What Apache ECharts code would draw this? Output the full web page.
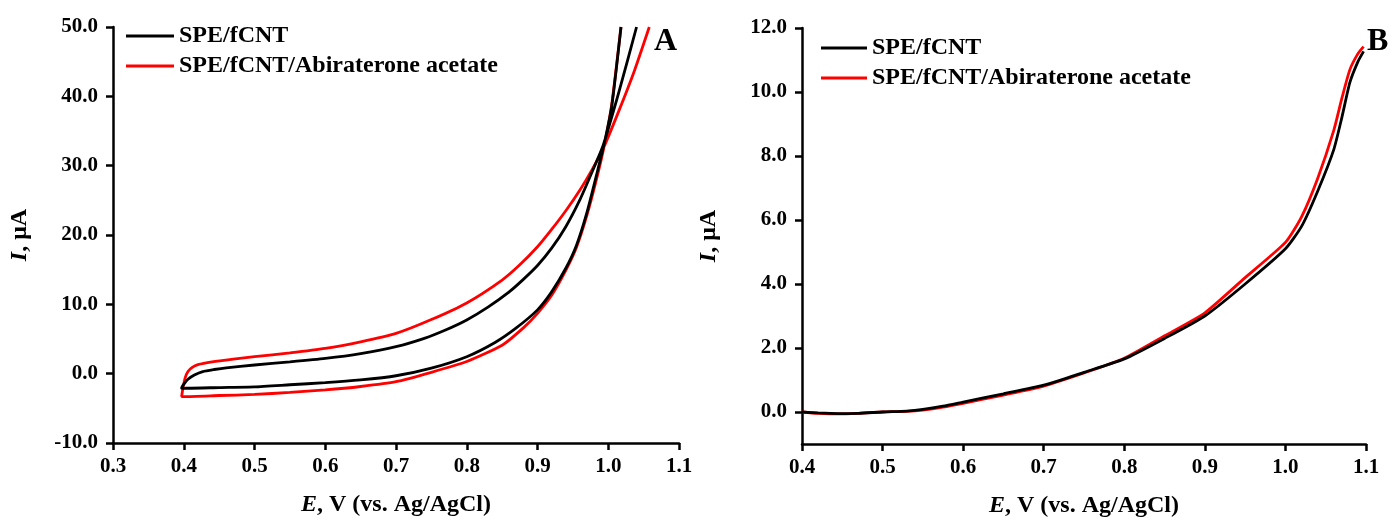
<!DOCTYPE html>
<html><head><meta charset="utf-8">
<script src="https://cdn.jsdelivr.net/npm/echarts@6/dist/echarts.min.js"></script>
<style>html,body{margin:0;padding:0;background:#fff}#c{width:1391px;height:519px}</style>
</head><body><div id="c"></div>
<script>
const seriesNames = ['SPE/fCNT', 'SPE/fCNT/Abiraterone acetate'];
const xTicksA = [0.3, 1.1, 0.1];
const yTicksA = [-10, 50, 10];
const xTicksB = [0.4, 1.1, 0.1];
const yRangeB = [-1, 12];
const yTickValuesB = [0, 2, 4, 6, 8, 10, 12];

// Panel A: cyclic voltammograms [E (V), I (µA)]
const blackUpperA = [[0.397,-2.1],[0.401,-1.4],[0.406,-0.8],[0.415,-0.2],[0.427,0.3],[0.443,0.6],[0.46,0.85],[0.50,1.25],[0.55,1.7],[0.60,2.2],[0.65,2.9],[0.70,3.9],[0.74,5.1],[0.77,6.3],[0.80,7.75],[0.83,9.6],[0.86,11.8],[0.88,13.6],[0.90,15.6],[0.92,18.1],[0.94,21.2],[0.96,25.1],[0.978,29.3],[0.993,33],[1.015,40.6],[1.04,50]];
const blackLowerA = [[0.397,-2.2],[0.406,-2.1],[0.45,-2.0],[0.50,-1.9],[0.55,-1.6],[0.60,-1.3],[0.65,-0.9],[0.70,-0.3],[0.75,0.8],[0.80,2.45],[0.84,4.5],[0.87,6.6],[0.90,9.2],[0.92,11.8],[0.94,15.2],[0.955,18.5],[0.97,23.3],[0.985,29.3],[0.995,33.5],[1.005,38.6],[1.018,50]];
const redUpperA = [[0.397,-3.3],[0.399,-2.0],[0.402,-0.6],[0.406,0.3],[0.412,0.9],[0.42,1.3],[0.44,1.7],[0.47,2.1],[0.50,2.45],[0.55,3.0],[0.60,3.65],[0.65,4.6],[0.70,5.8],[0.75,7.8],[0.80,10.2],[0.85,13.5],[0.875,15.7],[0.90,18.3],[0.92,20.8],[0.94,23.5],[0.96,26.5],[0.977,29.4],[0.993,32.5],[1.015,37.9],[1.037,43.7],[1.058,50]];
const redLowerA = [[0.397,-3.3],[0.40,-3.3],[0.45,-3.15],[0.50,-3.0],[0.55,-2.7],[0.60,-2.35],[0.65,-1.85],[0.70,-1.15],[0.75,0.2],[0.80,1.75],[0.85,4.1],[0.88,6.6],[0.90,8.7],[0.92,11.3],[0.94,14.9],[0.955,18.2],[0.97,22.9],[0.985,28.7],[0.995,33.2],[1.005,38.9],[1.018,50]];

// Panel B: linear sweep [E (V), I (µA)]
const blackB = [[0.40,0],[0.42,-0.03],[0.445,-0.05],[0.47,-0.04],[0.50,0],[0.53,0.03],[0.55,0.08],[0.575,0.18],[0.60,0.31],[0.65,0.57],[0.70,0.84],[0.75,1.24],[0.80,1.66],[0.85,2.3],[0.90,3.0],[0.95,4.0],[1.00,5.1],[1.02,5.8],[1.04,6.9],[1.06,8.2],[1.07,9.2],[1.08,10.3],[1.09,10.95],[1.097,11.27]];
const redB = [[0.40,0],[0.42,-0.04],[0.445,-0.06],[0.47,-0.04],[0.50,0],[0.53,0.02],[0.55,0.06],[0.575,0.15],[0.60,0.27],[0.65,0.53],[0.70,0.81],[0.75,1.22],[0.80,1.68],[0.85,2.38],[0.90,3.1],[0.95,4.2],[1.00,5.3],[1.02,6.1],[1.04,7.3],[1.06,8.8],[1.07,9.8],[1.08,10.7],[1.09,11.2],[1.097,11.42]];

const loopA = (up, low) => up.slice().reverse().concat(low);

const FONT = '"Liberation Serif", "Times New Roman", serif';
const axisLineStyle = {show:true, onZero:false, lineStyle:{color:'#000', width:2.5}};
const tick = {show:true, inside:false, length:7, lineStyle:{color:'#000', width:2.5}};
const lbl = {color:'#000', fontFamily:FONT, fontWeight:'bold', fontSize:21};
const titleStyle = {color:'#000', fontFamily:FONT, fontWeight:'bold', fontSize:24,
  rich:{i:{fontStyle:'italic', fontWeight:'bold', fontFamily:FONT, fontSize:24, color:'#000'}}};
const xName = {name:'{i|E}, V (vs. Ag/AgCl)', nameLocation:'middle', nameGap:50, nameTextStyle:titleStyle};
const yName = {name:'{i|I}, μA', nameLocation:'middle', nameGap:81, nameTextStyle:titleStyle};

function line(name, data, color, xi) {
  return {name, type:'line', xAxisIndex:xi, yAxisIndex:xi, data, symbol:'none', smooth:0.2,
    lineStyle:{color, width:2.8}, itemStyle:{color}, z: color === '#ff0000' ? 3 : 4};
}
const legendText = {color:'#000', fontFamily:FONT, fontWeight:'bold', fontSize:24};

const chart = echarts.init(document.getElementById('c'), null, {renderer:'canvas'});
chart.setOption({
  backgroundColor:'#fff',
  animation:false,
  grid:[
    {left:113, top:27, width:566, height:416, containLabel:false, outerBoundsMode:'none'},
    {left:802, top:28, width:564, height:416, containLabel:false, outerBoundsMode:'none'}
  ],
  xAxis:[
    Object.assign({type:'value', gridIndex:0, min:xTicksA[0], max:xTicksA[1], interval:xTicksA[2],
      axisLine:axisLineStyle, axisTick:tick, splitLine:{show:false},
      axisLabel:Object.assign({margin:13, formatter:v=>v.toFixed(1)}, lbl)}, xName),
    Object.assign({type:'value', gridIndex:1, min:xTicksB[0], max:xTicksB[1], interval:xTicksB[2],
      axisLine:axisLineStyle, axisTick:tick, splitLine:{show:false},
      axisLabel:Object.assign({margin:13, formatter:v=>v.toFixed(1)}, lbl)}, xName)
  ],
  yAxis:[
    Object.assign({type:'value', gridIndex:0, min:yTicksA[0], max:yTicksA[1], interval:yTicksA[2],
      axisLine:axisLineStyle, axisTick:tick, splitLine:{show:false},
      axisLabel:Object.assign({margin:15, formatter:v=>v.toFixed(1)}, lbl)}, yName),
    Object.assign({type:'value', gridIndex:1, min:yRangeB[0], max:yRangeB[1],
      axisLine:axisLineStyle,
      axisTick:Object.assign({customValues:yTickValuesB}, tick), splitLine:{show:false},
      axisLabel:Object.assign({margin:15, customValues:yTickValuesB, formatter:v=>v.toFixed(1)}, lbl)}, yName)
  ],
  legend:[
    {orient:'vertical', left:121, top:19, icon:'rect', itemWidth:48, itemHeight:3, itemGap:6,
      data:seriesNames, selectedMode:false, textStyle:legendText},
    {orient:'vertical', left:816, top:31, icon:'rect', itemWidth:46, itemHeight:3, itemGap:6,
      data:seriesNames, selectedMode:false, textStyle:legendText}
  ],
  graphic:[
    {type:'text', left:654, top:26, style:{text:'A', fill:'#000', font:'bold 32px "Liberation Serif", serif'}},
    {type:'text', left:1367, top:26, style:{text:'B', fill:'#000', font:'bold 32px "Liberation Serif", serif'}}
  ],
  series:[
    line(seriesNames[1], loopA(redUpperA, redLowerA), '#ff0000', 0),
    line(seriesNames[0], loopA(blackUpperA, blackLowerA), '#000000', 0),
    line(seriesNames[0], blackB, '#000000', 1),
    line(seriesNames[1], redB, '#ff0000', 1)
  ]
});
</script></body></html>
